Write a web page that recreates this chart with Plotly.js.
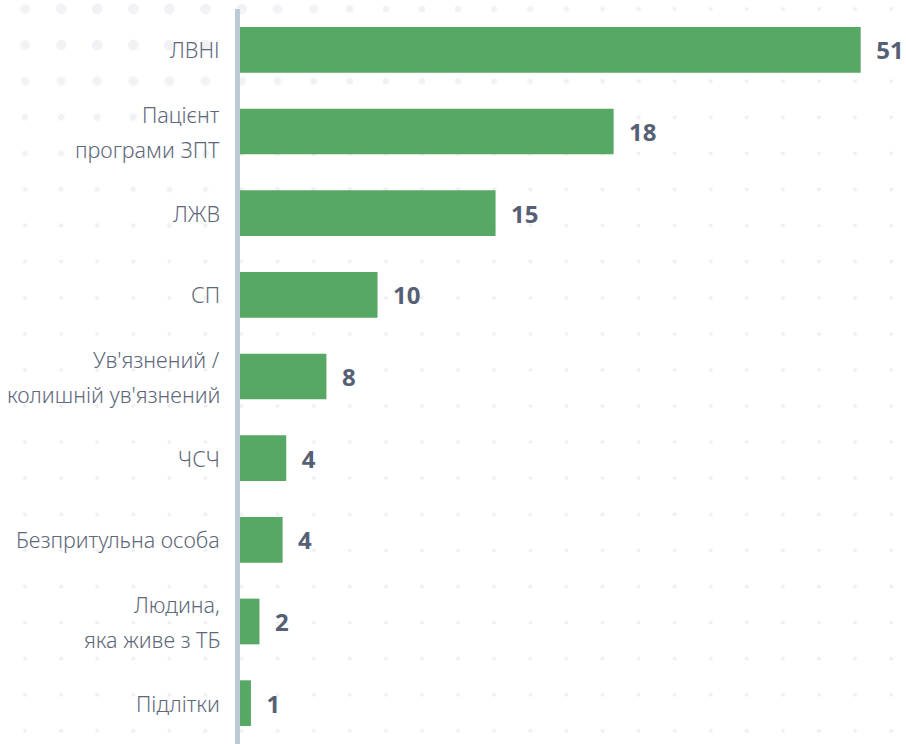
<!DOCTYPE html>
<html>
<head>
<meta charset="utf-8">
<script src="https://cdn.plot.ly/plotly-3.0.1.min.js"></script>
<style>
  html, body { margin: 0; padding: 0; background: #ffffff; }
  #wrap { position: relative; width: 906px; height: 744px; overflow: hidden; }
  .dots { position: absolute; left: 0; top: 0; width: 906px; height: 744px; }
  #dotsSmall {
    background-image: radial-gradient(circle at 50% 50%, #eef0f3 0 1.7px, rgba(255,255,255,0) 2.3px);
    background-size: 36.1px 36.1px;
    background-position: 6.95px 27.05px;
  }
  #dotsMid {
    background-image: radial-gradient(circle at 50% 50%, #eff1f4 0 3px, rgba(255,255,255,0) 3.6px);
    background-size: 36.1px 36.1px;
    background-position: 6.95px 27.05px;
    -webkit-mask-image: radial-gradient(ellipse 520px 220px at 200px 30px, #000 0%, #000 45%, transparent 100%);
    mask-image: radial-gradient(ellipse 520px 220px at 200px 30px, #000 0%, #000 45%, transparent 100%);
  }
  #dotsBig {
    background-image: radial-gradient(circle at 50% 50%, #f0f2f5 0 5px, rgba(255,255,255,0) 5.6px);
    background-size: 36.1px 36.1px;
    background-position: 6.95px 27.05px;
    -webkit-mask-image: radial-gradient(ellipse 220px 110px at 150px 20px, #000 0%, #000 40%, transparent 100%);
    mask-image: radial-gradient(ellipse 220px 110px at 150px 20px, #000 0%, #000 40%, transparent 100%);
  }
  #chart { position: absolute; left: 0; top: 0; width: 906px; height: 744px; }
</style>
</head>
<body>
<div id="wrap">
  <div class="dots" id="dotsSmall"></div>
  <div class="dots" id="dotsMid"></div>
  <div class="dots" id="dotsBig"></div>
  <div id="chart"></div>
</div>
<script>
// Categories (top to bottom)
var categories = [
  "ЛВНІ",
  "Пацієнт<br>програми ЗПТ",
  "ЛЖВ",
  "СП",
  "Ув'язнений /<br>колишній ув'язнений",
  "ЧСЧ",
  "Безпритульна особа",
  "Людина,<br>яка живе з ТБ",
  "Підлітки"
];
// Numbers printed next to the bars
var counts = [51, 18, 15, 10, 8, 4, 4, 2, 1];
// Bar lengths as drawn in the source infographic (not to scale with the counts),
// read from the picture in units where the longest bar equals 51
var barLength = [51, 30.7, 21.0, 11.3, 7.1, 3.8, 3.5, 1.6, 0.9];

var labelColor = "#5d6879";
var valueColor = "#566074";
var barColor = "#58a865";

var trace = {
  type: "bar",
  orientation: "h",
  y: categories,
  x: barLength,
  text: counts.map(function (c) { return "\u00a0\u00a0" + c; }),
  textposition: "outside",
  constraintext: "none",
  cliponaxis: false,
  textfont: { family: "Noto Sans, sans-serif", size: 24, color: valueColor, weight: 700 },
  marker: { color: barColor, line: { width: 0 } },
  hoverinfo: "none"
};

var annotations = [];
categories.forEach(function (cat, i) {
  var lines = cat.split("<br>");
  var n = lines.length;
  lines.forEach(function (line, j) {
    annotations.push({
      xref: "paper", x: 0, xanchor: "right", xshift: -18,
      yref: "y", y: i, yanchor: "middle", yshift: ((n - 1) / 2 - j) * 35,
      text: line, showarrow: false,
      font: { family: "Noto Sans, sans-serif", size: 21.5, color: labelColor, weight: 300 }
    });
  });
});

var layout = {
  width: 906, height: 744,
  margin: { l: 240, r: 6, t: 9, b: 0, pad: 0 },
  paper_bgcolor: "rgba(0,0,0,0)",
  plot_bgcolor: "rgba(0,0,0,0)",
  showlegend: false,
  bargap: 0.44,
  xaxis: {
    range: [0, 54.23], showgrid: false, zeroline: false, showticklabels: false,
    ticks: "", showline: false, fixedrange: true
  },
  yaxis: {
    type: "category", autorange: "reversed", showgrid: false, zeroline: false,
    showticklabels: false, ticks: "", showline: true, linecolor: "#bccad6", linewidth: 5,
    fixedrange: true
  },
  annotations: annotations
};

Plotly.newPlot("chart", [trace], layout, { displayModeBar: false, staticPlot: true });
</script>
</body>
</html>
